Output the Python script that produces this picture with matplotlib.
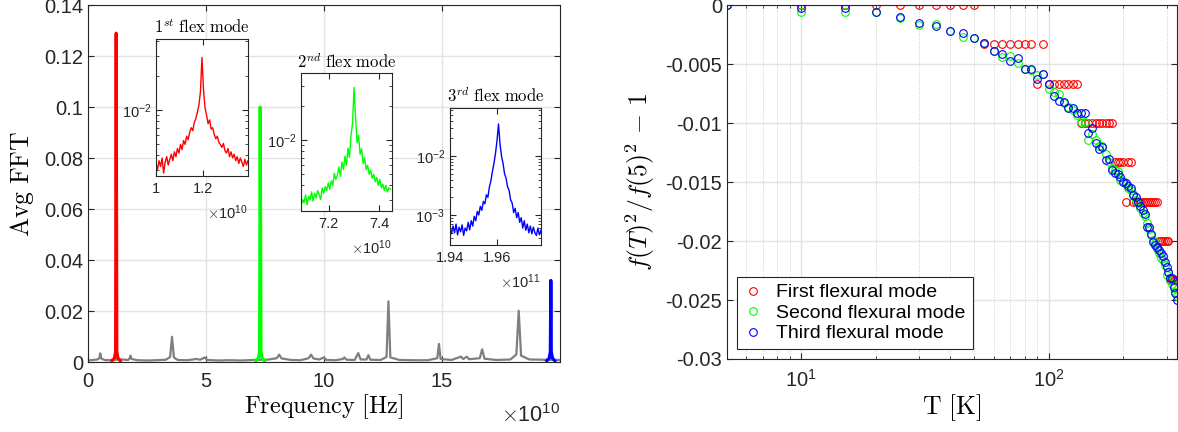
import numpy as np
import matplotlib
matplotlib.use('Agg')
import matplotlib.pyplot as plt
from matplotlib.ticker import NullFormatter, LogLocator

plt.rcParams['font.family'] = 'Liberation Sans'
plt.rcParams['mathtext.fontset'] = 'cm'
plt.rcParams['axes.unicode_minus'] = False

# ======= Dados: espectro medio (frequencia em unidades de 1e10 Hz) =======
grey_f = [0.00, 0.20, 0.40, 0.48, 0.52, 0.56, 0.70, 0.90, 1.10, 1.45, 1.70, 1.76, 1.80, 1.84,
          2.10, 2.50, 2.90, 3.30, 3.48, 3.56, 3.64, 3.80, 4.20, 4.45, 4.60, 4.75, 4.95, 5.05,
          5.50, 6.00, 6.50, 7.00, 7.60, 8.00, 8.10, 8.20, 8.60, 9.00, 9.35, 9.45, 9.55, 9.80,
          10.00, 10.10, 10.50, 10.80, 10.86, 10.95, 11.30, 11.45, 11.55, 11.80, 11.88, 11.96,
          12.40, 12.65, 12.73, 12.81, 13.20, 13.80, 14.40, 14.80, 14.87, 14.94, 15.40, 15.80,
          15.90, 16.05, 16.15, 16.60, 16.70, 16.80, 17.30, 17.90, 18.15, 18.25, 18.35, 18.70,
          19.30, 20.00]
grey_a = [0.0006, 0.0008, 0.0010, 0.0015, 0.0034, 0.0014, 0.0008, 0.0007, 0.0009, 0.0010,
          0.0008, 0.0014, 0.0025, 0.0012, 0.0007, 0.0006, 0.0007, 0.0009, 0.0020, 0.0099,
          0.0018, 0.0008, 0.0007, 0.0010, 0.0012, 0.0009, 0.0018, 0.0008, 0.0006, 0.0007,
          0.0006, 0.0008, 0.0009, 0.0015, 0.0029, 0.0014, 0.0008, 0.0007, 0.0015, 0.0029,
          0.0014, 0.0010, 0.0018, 0.0008, 0.0007, 0.0012, 0.0018, 0.0009, 0.0008, 0.0035,
          0.0010, 0.0010, 0.0027, 0.0009, 0.0008, 0.0020, 0.0238, 0.0018, 0.0008, 0.0007,
          0.0007, 0.0015, 0.0071, 0.0012, 0.0008, 0.0021, 0.0012, 0.0021, 0.0011, 0.0015,
          0.0050, 0.0013, 0.0008, 0.0010, 0.0030, 0.0201, 0.0025, 0.0010, 0.0009, 0.0008]

red_f = [1.02, 1.12, 1.17, 1.195, 1.22, 1.27, 1.37]
red_a = [0.0005, 0.0015, 0.004, 0.129, 0.004, 0.0015, 0.0005]
green_f = [7.12, 7.22, 7.27, 7.298, 7.33, 7.38, 7.48]
green_a = [0.0005, 0.0015, 0.004, 0.100, 0.004, 0.0015, 0.0005]
blue_f = [19.44, 19.54, 19.59, 19.61, 19.63, 19.68, 19.78]
blue_a = [0.0005, 0.0015, 0.004, 0.032, 0.004, 0.0015, 0.0005]

# insets: bins FFT (inicio, largura) e amplitudes
in1_f0, in1_df = 1.0e10, 0.0065e10
in1_a = [3.4, 3.0, 3.6, 3.2, 3.8, 2.8, 3.5, 3.9, 3.3, 3.7, 4.1,
         3.6, 4.3, 3.9, 4.6, 4.2, 5.0, 4.5, 5.4, 5.0, 5.9,
         5.5, 6.4, 7.0, 6.6, 7.8, 8.4, 9.6, 11.0, 14.5,
         29.0,
         15.0, 10.5, 9.0, 7.6, 8.2, 6.8, 7.0, 6.1, 5.6, 5.9,
         5.2, 5.0, 4.7, 5.1, 4.4, 4.2, 4.6, 3.9, 4.3, 3.8,
         4.1, 3.6, 3.9, 3.4, 3.8, 3.5, 3.2, 3.7, 3.3, 3.6, 3.4]
in2_f0, in2_df = 7.09e10, 0.006e10
in2_a = [2.6, 3.0, 2.8, 3.3, 2.7, 3.2, 3.0, 3.5, 2.9, 3.4,
         3.1, 3.6, 3.3, 3.0, 3.8, 3.4, 3.9, 3.6, 4.2, 3.7,
         4.4, 4.0, 5.1, 4.5, 4.9, 5.8, 4.8, 6.4, 5.5, 7.2,
         6.0, 8.5, 7.0, 11.0, 14.0,
         29.0,
         16.0, 9.5, 11.0, 7.5, 8.4, 6.2, 7.0, 5.5, 6.0, 5.0,
         5.4, 4.6, 5.0, 4.3, 4.7, 4.0, 4.5, 3.8, 4.1, 3.6, 4.0, 3.5, 3.8, 3.7]
in3_f0, in3_df = 1.94e11, 0.00065e11
in3_a = [6.0, 4.8, 6.5, 5.0, 7.0, 4.6, 6.2, 5.2, 6.8, 4.5, 6.0,
         5.4, 7.5, 5.6, 8.0, 6.5, 9.5, 8.0, 11.5, 10.0, 14.0,
         12.0, 17.0, 15.5, 22.0, 20.0, 30.0, 38.0, 55.0, 75.0, 110.0,
         180.0, 350.0, 160.0, 100.0, 75.0, 50.0, 42.0, 30.0, 26.0, 18.0,
         16.0, 11.0, 13.0, 9.0, 11.0, 7.5, 9.0, 6.0, 8.0, 5.5,
         7.0, 5.0, 6.5, 4.8, 6.2, 5.0, 4.5, 6.0, 4.6, 5.5]

# ======= Dados: variacao da frequencia com a temperatura =======
T = [5, 10, 15, 20, 25, 30, 35, 40, 45, 50, 55, 60, 65, 70, 75, 80, 85, 90, 95, 100,
     105, 110, 115, 120, 125, 130, 135, 140, 145, 150, 155, 160, 165, 170, 175, 180,
     185, 190, 195, 200, 205, 210, 215, 220, 225, 230, 235, 240, 245, 250, 255, 260,
     265, 270, 275, 280, 285, 290, 295, 300, 305, 310, 315, 320, 325, 330]
q = 1 / 300.
first = ([0.0] * 10 + [-q] * 7 + [-2 * q] + [-q] + [-2 * q] * 7 + [-3 * q] * 10 +
         [-4 * q] * 4 + [-5 * q] + [-4 * q] * 2 + [-5 * q] * 12 + [-6 * q] * 6 + [-7 * q] * 5)
second = [0.0, -0.0006, -0.0006, -0.0006, -0.0011, -0.0017, -0.0016, -0.0022, -0.0027, -0.0028,
          -0.0032, -0.0039, -0.0044, -0.0043, -0.0049, -0.0054, -0.0055, -0.0059, -0.0058, -0.0071,
          -0.0074, -0.0075, -0.0083, -0.0086, -0.0089, -0.0093, -0.0099, -0.0099, -0.0114, -0.0109,
          -0.0114, -0.0119, -0.0119, -0.0126, -0.0133, -0.0138, -0.0140, -0.0141, -0.0148, -0.0149,
          -0.0152, -0.0155, -0.0157, -0.0160, -0.0165, -0.0168, -0.0172, -0.0176, -0.0179, -0.0185,
          -0.0190, -0.0195, -0.0199, -0.0202, -0.0207, -0.0210, -0.0214, -0.0216, -0.0220, -0.0229,
          -0.0226, -0.0233, -0.0236, -0.0240, -0.0243, -0.0247]
third = [0.0, -0.0002, -0.0002, -0.0006, -0.0010, -0.0015, -0.0018, -0.0022, -0.0024, -0.0028,
         -0.0032, -0.0039, -0.0041, -0.0047, -0.0045, -0.0054, -0.0054, -0.0063, -0.0058, -0.0067,
         -0.0077, -0.0081, -0.0082, -0.0087, -0.0087, -0.0091, -0.0091, -0.0091, -0.0108, -0.0104,
         -0.0117, -0.0122, -0.0120, -0.0131, -0.0130, -0.0140, -0.0142, -0.0143, -0.0146, -0.0150,
         -0.0151, -0.0153, -0.0155, -0.0161, -0.0163, -0.0167, -0.0170, -0.0174, -0.0177, -0.0188,
         -0.0188, -0.0194, -0.0201, -0.0203, -0.0205, -0.0208, -0.0210, -0.0213, -0.0218, -0.0222,
         -0.0226, -0.0231, -0.0231, -0.0239, -0.0244, -0.0250]

ytick_main = [0, 0.02, 0.04, 0.06, 0.08, 0.1, 0.12, 0.14]
ytick_main_lbl = ['0', '0.02', '0.04', '0.06', '0.08', '0.1', '0.12', '0.14']
ytick_T = [-0.03, -0.025, -0.02, -0.015, -0.01, -0.005, 0]
ytick_T_lbl = ['-0.03', '-0.025', '-0.02', '-0.015', '-0.01', '-0.005', '0']

dark = '#262626'
gridc = '#e3e3e3'

def style(ax, size, pad=4):
    ax.tick_params(which='both', direction='in', top=True, right=True,
                   colors=dark, labelsize=size, length=4)
    ax.tick_params(which='minor', length=2)
    ax.tick_params(axis='x', pad=pad)
    for s in ax.spines.values():
        s.set_color(dark)
        s.set_linewidth(0.8)

fig = plt.figure(figsize=(11.78, 4.32), dpi=100)

# ======= Painel esquerdo =======
ax1 = fig.add_axes([0.0747, 0.162, 0.4007, 0.826])
ax1.plot(np.array(grey_f) * 1e10, grey_a, color='#7f7f7f', lw=1.6)
ax1.plot(np.array(red_f) * 1e10, red_a, color=(1, 0, 0), lw=2.3)
ax1.plot(np.array(green_f) * 1e10, green_a, color=(0, 1, 0), lw=2.3)
ax1.plot(np.array(blue_f) * 1e10, blue_a, color=(0, 0, 1), lw=2.3)
ax1.set_xlim(0, 2e11)
ax1.set_ylim(0, 0.14)
ax1.set_xticks([0, 5e10, 10e10, 15e10])
ax1.set_xticklabels(['0', '5', '10', '15'])
ax1.set_yticks(ytick_main)
ax1.set_yticklabels(ytick_main_lbl)
ax1.grid(True, color=gridc, lw=1.0)
ax1.set_axisbelow(True)
style(ax1, 14.5, pad=7)
ax1.set_xlabel(r'$\mathrm{Frequency\ [Hz]}$', fontsize=17.5, labelpad=1)
ax1.set_ylabel(r'$\mathrm{Avg\ FFT}$', fontsize=18.5, labelpad=6)
ax1.text(1.0, -0.15, r'$\times\mathdefault{10^{10}}$', transform=ax1.transAxes,
         ha='right', va='center', fontsize=15.5, color=dark)

insets = [
    ([0.1324, 0.5926, 0.0781, 0.317], in1_f0, in1_df, in1_a, 1e-3, (1, 0, 0),
     (1.0e10, 1.39e10), (0.00264, 0.042), [1.0e10, 1.2e10], ['1', '1.2'], [1e-2],
     r'$1^{st}\ \mathrm{flex\ mode}$', r'$\times\mathdefault{10^{10}}$'),
    ([0.2555, 0.5116, 0.0772, 0.319], in2_f0, in2_df, in2_a, 1e-3, (0, 1, 0),
     (7.09e10, 7.45e10), (0.00238, 0.0387), [7.2e10, 7.4e10], ['7.2', '7.4'], [1e-2],
     r'$2^{nd}\ \mathrm{flex\ mode}$', r'$\times\mathdefault{10^{10}}$'),
    ([0.382, 0.4329, 0.0772, 0.317], in3_f0, in3_df, in3_a, 1e-4, (0, 0, 1),
     (1.94e11, 1.979e11), (0.00031, 0.0652), [1.94e11, 1.96e11], ['1.94', '1.96'], [1e-3, 1e-2],
     r'$3^{rd}\ \mathrm{flex\ mode}$', r'$\times\mathdefault{10^{11}}$'),
]
for rect, f0, df, amp, unit, col, xl, yl, xt, xtl, yt, title, mult in insets:
    axi = fig.add_axes(rect)
    freq = f0 + df * np.arange(len(amp))
    axi.plot(freq, np.array(amp) * unit, color=col, lw=1.0)
    axi.set_yscale('log')
    axi.set_xlim(*xl)
    axi.set_ylim(*yl)
    axi.set_xticks(xt)
    axi.set_xticklabels(xtl)
    axi.set_yticks(yt)
    axi.yaxis.set_minor_locator(LogLocator(subs=np.arange(2, 10)))
    axi.yaxis.set_minor_formatter(NullFormatter())
    style(axi, 10.5)
    axi.set_title(title, fontsize=12, pad=4)
    axi.text(1.0, -0.27, mult, transform=axi.transAxes, ha='right', va='center',
             fontsize=10.5, color=dark)

# ======= Painel direito =======
ax2 = fig.add_axes([0.617, 0.169, 0.382, 0.819])
ax2.plot(T, first, 'o', mfc='none', mec=(1, 0, 0), ms=5.5, mew=0.8, label='First flexural mode')
ax2.plot(T, second, 'o', mfc='none', mec=(0, 1, 0), ms=5.5, mew=0.8, label='Second flexural mode')
ax2.plot(T, third, 'o', mfc='none', mec=(0, 0, 1), ms=5.5, mew=0.8, label='Third flexural mode')
ax2.set_xscale('log')
ax2.set_xlim(5, 330)
ax2.set_ylim(-0.03, 0)
ax2.set_yticks(ytick_T)
ax2.set_yticklabels(ytick_T_lbl)
ax2.xaxis.set_minor_formatter(NullFormatter())
ax2.grid(True, which='major', color=gridc, lw=1.0)
ax2.grid(True, which='minor', axis='x', color='#cccccc', lw=0.7, ls=':')
ax2.set_axisbelow(True)
style(ax2, 14.5, pad=7)
ax2.set_xlabel(r'$\mathrm{T\ [K]}$', fontsize=18.5, labelpad=1)
ax2.set_ylabel(r'$f(T)^2/f(5)^2\,-\,1$', fontsize=18.5, labelpad=6)
leg = ax2.legend(loc='lower left', fontsize=14, handlelength=1.0, handletextpad=0.7,
                 borderaxespad=0.5, fancybox=False, framealpha=1, labelspacing=0.15,
                 borderpad=0.35)
leg.get_frame().set_edgecolor(dark)
leg.get_frame().set_linewidth(0.8)

fig.savefig('out.png', dpi=100)
